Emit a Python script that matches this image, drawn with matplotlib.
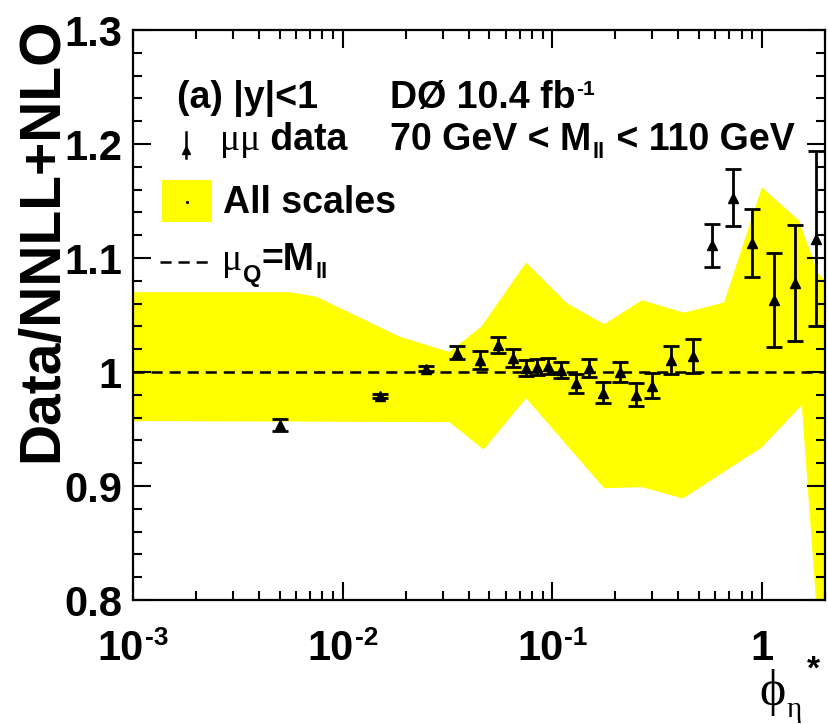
import numpy as np
import matplotlib
matplotlib.use("Agg")
import matplotlib.pyplot as plt
from matplotlib.transforms import IdentityTransform
from matplotlib.ticker import FixedLocator, LogLocator, MultipleLocator, FixedFormatter, NullFormatter

plt.rcParams["lines.scale_dashes"] = False

# phi*_eta bin centres, data/theory ratio and uncertainty (mu mu channel, |y|<1)
phi_star = [0.005, 0.015, 0.025, 0.035, 0.045, 0.055, 0.065, 0.075, 0.085, 0.095,
            0.11, 0.13, 0.15, 0.175, 0.21, 0.25, 0.30, 0.37, 0.47, 0.58,
            0.73, 0.90, 1.14, 1.44, 1.81]
ratio = [0.9535, 0.979, 1.003, 1.017, 1.0105, 1.024, 1.012, 1.0035, 1.004, 1.005,
         1.002, 0.990, 1.0035, 0.982, 1.000, 0.980, 0.988, 1.0105, 1.014, 1.111,
         1.153, 1.113, 1.063, 1.078, 1.117]
ratio_err = [0.005, 0.002, 0.002, 0.006, 0.008, 0.007, 0.008, 0.007, 0.007, 0.007,
             0.007, 0.008, 0.008, 0.009, 0.009, 0.010, 0.011, 0.012, 0.015, 0.019,
             0.025, 0.030, 0.041, 0.051, 0.077]

# scale-variation envelope ("All scales")
band_x_up = [0.001, 0.0056, 0.0075, 0.0108, 0.0187, 0.0323, 0.046, 0.075, 0.118, 0.177,
             0.268, 0.425, 0.66, 1.0, 1.5, 1.85, 2.0]
band_up = [1.070, 1.070, 1.066, 1.052, 1.031, 1.0175, 1.040, 1.096, 1.060, 1.042,
           1.063, 1.052, 1.061, 1.162, 1.133, 1.087, 1.080]
band_x_lo = [0.001, 0.0323, 0.047, 0.075, 0.177, 0.268, 0.42, 1.0, 1.55, 1.81, 2.0]
band_lo = [0.957, 0.956, 0.932, 0.977, 0.898, 0.899, 0.889, 0.934, 0.971, 0.800, 0.720]

y_ticks = [0.8, 0.9, 1.0, 1.1, 1.2, 1.3]
y_tick_labels = ["0.8", "0.9", "1", "1.1", "1.2", "1.3"]
x_decades = [1e-3, 1e-2, 1e-1, 1.0]
x_decade_exp = ["-3", "-2", "-1", None]

W, H = 829, 724
SANS = "Liberation Sans"
SERIF = ["Liberation Serif", "DejaVu Serif"]
YELLOW = "#ffff00"

fig = plt.figure(figsize=(W / 100, H / 100), dpi=100)
ax = fig.add_axes([133 / W, 124 / H, (825 - 133) / W, (600 - 30) / H])
ax.set_xscale("log")
ax.set_xlim(1e-3, 2.0)
ax.set_ylim(0.8, 1.3)

# envelope
poly_x = np.concatenate([band_x_up, band_x_lo[::-1]])
poly_y = np.concatenate([band_up, band_lo[::-1]])
ax.fill(poly_x, poly_y, color=YELLOW, lw=0, zorder=1)

# central scale choice
ax.axhline(1.0, color="black", lw=1.8, dashes=(8, 5), zorder=2)

# data
ax.errorbar(phi_star, ratio, yerr=ratio_err, fmt="^", color="black", ms=7.5,
            elinewidth=2.0, capsize=5.5, capthick=2.0, zorder=3)

# axes styling
for s in ax.spines.values():
    s.set_linewidth(1.6)
ax.yaxis.set_major_locator(FixedLocator(y_ticks))
ax.yaxis.set_major_formatter(FixedFormatter(y_tick_labels))
ax.yaxis.set_minor_locator(MultipleLocator(0.02))
ax.xaxis.set_major_locator(FixedLocator(x_decades))
ax.xaxis.set_minor_locator(LogLocator(base=10, subs=np.arange(2, 10)))
ax.xaxis.set_major_formatter(NullFormatter())
ax.xaxis.set_minor_formatter(NullFormatter())
ax.tick_params(which="both", direction="in", top=True, right=True, width=1.5)
ax.tick_params(which="major", length=13)
ax.tick_params(which="minor", length=6.5)
ax.tick_params(axis="y", which="major", pad=8)
for lab in ax.get_yticklabels():
    lab.set_fontsize(30)
    lab.set_fontweight("bold")
    lab.set_family(SANS)

renderer = fig.canvas.get_renderer()


def chain(pieces, x, y_top, ha="left"):
    """Place text pieces one after another; y_top is a baseline in pixels from the top,
    dy shifts a piece upwards in pixels."""
    cur = x
    objs = []
    for s, size, fam, weight, dx, dy in pieces:
        t = fig.text(cur + dx, H - y_top + dy, s, transform=IdentityTransform(),
                     fontsize=size, family=fam, weight=weight, va="baseline", ha="left")
        w = t.get_window_extent(renderer).width
        cur += dx + w
        objs.append(t)
    if ha == "center":
        shift = (cur - x) / 2
        for t in objs:
            px, py = t.get_position()
            t.set_position((px - shift, py))
    return objs


# x tick labels
for xv, ex in zip(x_decades, x_decade_exp):
    px = ax.transData.transform((xv, 1.0))[0]
    if ex is None:
        chain([("1", 30, SANS, "bold", 0, 0)], px, 660, ha="center")
    else:
        chain([("10", 30, SANS, "bold", 0, 0), (ex, 19, SANS, "bold", 1, 15)], px, 660, ha="center")

# axis titles
fig.text(42, H - 240, "Data/NNLL+NLO", transform=IdentityTransform(), rotation=90,
         ha="center", va="center", fontsize=41, fontweight="bold", family=SANS)
chain([("\u03d5", 36, SERIF, "normal", 0, 0),
       ("\u03b7", 21, SERIF, "normal", 1, -12),
       ("*", 24, SANS, "bold", 5, 26)], 759, 705)

# annotations
TS = 27
chain([("(a) |y|<1", TS, SANS, "bold", 0, 0)], 177, 108)
chain([("D\u00d8 10.4 fb", TS, SANS, "bold", 0, 0),
       ("-1", 15, SANS, "bold", 1, 13)], 390, 108)
chain([("\u03bc\u03bc", TS, SERIF, "normal", 0, 0),
       (" data", TS, SANS, "bold", 0, 0)], 220, 150)
chain([("70 GeV < M", TS, SANS, "bold", 0, 0),
       ("ll", 16, SANS, "bold", 1, -8),
       (" < 110 GeV", TS, SANS, "bold", 1, 0)], 390, 150)
chain([("All scales", TS, SANS, "bold", 0, 0)], 223, 213)
chain([("\u03bc", TS, SERIF, "normal", 0, 0),
       ("Q", 17, SANS, "bold", 1, -12),
       ("=M", TS, SANS, "bold", 0, 0),
       ("ll", 16, SANS, "bold", 1, -8)], 222, 270)

# legend glyphs
lx, ly = ax.transAxes.inverted().transform((186, H - 150))
_, ly0 = ax.transAxes.inverted().transform((186, H - 158))
_, ly1 = ax.transAxes.inverted().transform((186, H - 132))
ax.plot([lx, lx], [ly0, ly1], color="black", lw=1.8, transform=ax.transAxes, clip_on=False)
ax.plot([lx], [ly], marker="^", ms=5.5, color="black", transform=ax.transAxes, clip_on=False)

bx0, by0 = ax.transAxes.inverted().transform((162, H - 222))
bx1, by1 = ax.transAxes.inverted().transform((212, H - 180))
ax.add_patch(plt.Rectangle((bx0, by0), bx1 - bx0, by1 - by0, transform=ax.transAxes,
                           facecolor=YELLOW, edgecolor="none", zorder=4))
cx, cy = ax.transAxes.inverted().transform((187, H - 202))
ax.plot([cx], [cy], marker="o", ms=1.2, color="black", transform=ax.transAxes, zorder=5)

dx0, dy0 = ax.transAxes.inverted().transform((160, H - 262))
dx1, _ = ax.transAxes.inverted().transform((212, H - 262))
ax.plot([dx0, dx1], [dy0, dy0], color="black", lw=1.8, dashes=(8, 5), transform=ax.transAxes)

fig.savefig("out.png", dpi=100)
